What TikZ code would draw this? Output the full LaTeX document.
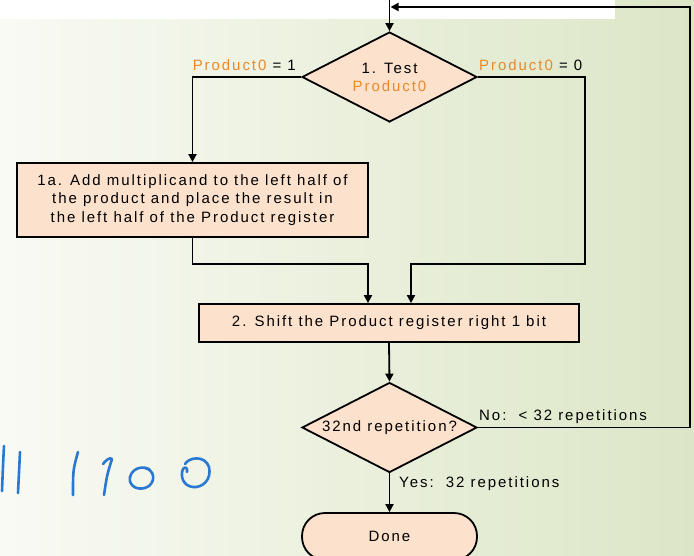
\documentclass[tikz,border=0pt]{standalone}
\usepackage{fontspec}
\setmainfont{Liberation Sans}[LetterSpace=13]
\usetikzlibrary{shapes.geometric,arrows.meta}

\definecolor{peach}{HTML}{FCE1CC}
\definecolor{prodorange}{HTML}{E8892C}
\definecolor{bgleft}{HTML}{F9FAF4}
\definecolor{bgright}{HTML}{DCE6C6}
\definecolor{inkblue}{HTML}{2A78D2}

\tikzset{
  flowline/.style={line width=1.8pt, black},
  arr/.style={flowline, -{Triangle[length=8pt,width=8pt]}},
  stepbox/.style={draw=black, line width=1.8pt, fill=peach, rectangle, inner sep=0pt,
    align=center, font=\fontsize{15}{18.6}\selectfont},
  decision/.style={draw=black, line width=1.8pt, fill=peach, diamond, aspect=1.94,
    inner sep=0pt, minimum width=175pt, minimum height=90pt, align=center,
    font=\fontsize{15}{18}\selectfont},
  terminal/.style={draw=black, line width=1.8pt, fill=peach, rectangle,
    rounded corners=23pt, inner sep=0pt, minimum width=175pt, minimum height=47pt,
    font=\fontsize{15}{18}\selectfont},
  cond/.style={inner sep=0pt, font=\fontsize{15}{18}\selectfont},
  ink/.style={draw=inkblue, line width=2.6pt, line cap=round, line join=round}
}
\newcommand{\prodbit}{\textcolor{prodorange}{Product0}}

\begin{document}
\begin{tikzpicture}[x=1pt,y=-1pt]
  \useasboundingbox (0,0) rectangle (694,555);
  % background
  \shade[left color=bgleft, right color=bgright] (0,0) rectangle (694,555);
  \fill[white] (0,0) rectangle (615,19);

  % nodes
  \node[decision] (test) at (389.5,77) {1. Test\\\prodbit};
  \node[stepbox, minimum width=351pt, minimum height=74pt] (add) at (192.5,200)
    {1a. Add multiplicand to the left half of\\the product and place the result in\\the left half of the Product register};
  \node[stepbox, minimum width=380pt, minimum height=38pt] (shift) at (389,323)
    {2. Shift the Product register right 1 bit};
  \node[decision] (rep) at (389.5,427.5) {32nd repetition?};
  \node[terminal] (done) at (389.5,536.5) {Done};

  % branch labels
  \node[cond, anchor=base east] (lone) at (296,70) {\prodbit\ = 1};
  \node[cond, anchor=base west] (lzero) at (479,70) {\prodbit\ = 0};
  \node[cond, anchor=base west] (lno) at (479,420) {No:\ \ < 32 repetitions};
  \node[cond, anchor=base west] (lyes) at (399,487) {Yes:\ \ 32 repetitions};

  % helper points
  \coordinate (entry) at (389.5,0);
  \coordinate (rjoin) at (585,264);
  \coordinate (b2l) at ([xshift=-21pt]shift.north);
  \coordinate (b2r) at ([xshift=22pt]shift.north);
  \coordinate (loopc) at (690,7);
  \coordinate (loopend) at (390.5,7);

  % connectors
  \draw[arr] (entry) -- (test.north);
  \draw[arr] (test.west) -| (add.north);
  \draw[arr] (test.east) -| (rjoin) -| (b2r);
  \draw[arr] (add.south) -- (add.south |- rjoin) -| (b2l);
  \draw[arr] (shift.south) -- (rep.north);
  \draw[arr] (rep.east) -| (loopc) -- (loopend);
  \draw[arr] (rep.south) -- (done.north);

  % handwritten digits
  \draw[ink] (4,446) .. controls (3,465) .. (2,491);
  \draw[ink] (20,452) .. controls (19,472) .. (18,493);
  \draw[ink] (78,452) .. controls (73,470) .. (73,495);
  \draw[ink] (103,464) .. controls (106,460) and (110,457) .. (112,459)
    .. controls (107,475) .. (104,495);
  \draw[ink] (150,470) .. controls (146,466) and (133,466) .. (130,477)
    .. controls (128,487) and (140,492) .. (149,486)
    .. controls (156,480) and (154,470) .. (145,468);
  \draw[ink] (185,464) .. controls (189,457) and (205,455) .. (209,467)
    .. controls (212,480) and (202,488) .. (193,487)
    .. controls (183,486) and (180,476) .. (183,469)
    .. controls (185,466) and (188,468) .. (187,472);
\end{tikzpicture}
\end{document}
